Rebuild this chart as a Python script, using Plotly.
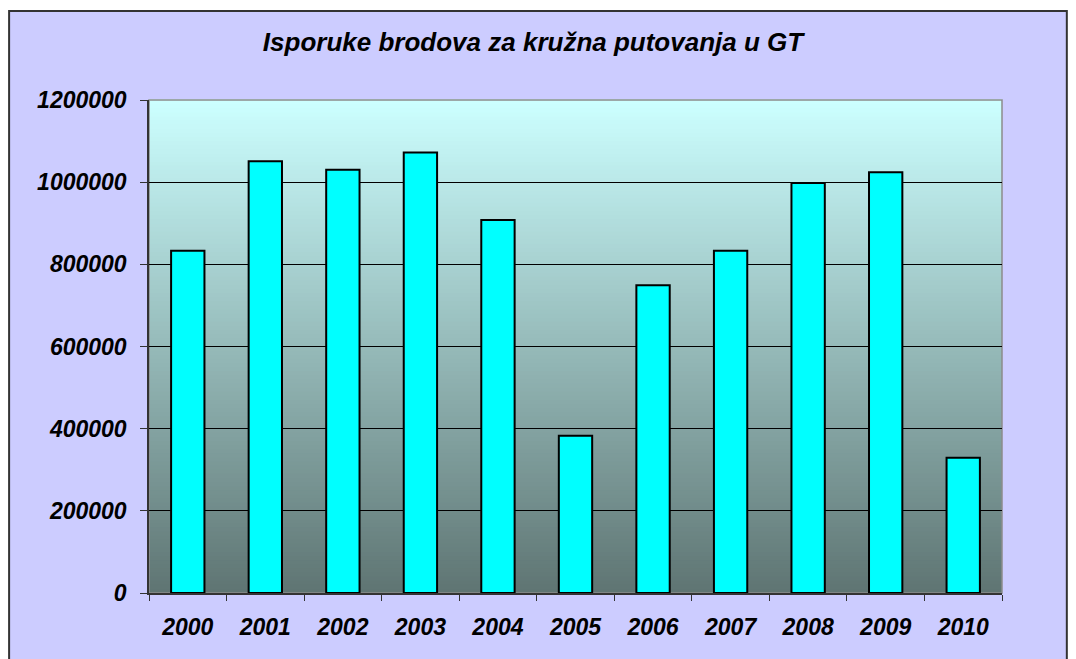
import plotly.graph_objects as go

# Isporuke brodova za kružna putovanja (GT)
years = ['2000', '2001', '2002', '2003', '2004', '2005', '2006', '2007', '2008', '2009', '2010']
gt_values = [833000, 1051000, 1030000, 1072000, 908000, 383000, 749000, 833000, 998000, 1024000, 329000]
y_ticks = [0, 200000, 400000, 600000, 800000, 1000000, 1200000]

FONT = 'Arial, Liberation Sans, sans-serif'

fig = go.Figure()

fig.add_trace(go.Bar(
    x=years,
    y=gt_values,
    marker=dict(color='#00FFFF', line=dict(color='black', width=2)),
    hoverinfo='x+y',
    showlegend=False
))

shapes = []

# okvir cijelog grafikona (lavanda pozadina)
shapes.append(dict(type='rect', xref='paper', yref='paper',
                   x0=-0.164, x1=1.076, y0=-0.17, y1=1.1805,
                   fillcolor='#CCCCFF', line=dict(color='#333333', width=2),
                   layer='below'))

# gradijent u području crtanja (odozgo svijetlo cijan, dolje tamno sivo-zelena)
top = (204, 255, 255)
bottom = (95, 117, 115)
n = 120
for i in range(n):
    t = i / (n - 1)
    c = tuple(round(bottom[k] + (top[k] - bottom[k]) * t) for k in range(3))
    shapes.append(dict(type='rect', xref='x domain', yref='y domain',
                       x0=0, x1=1, y0=i / n, y1=(i + 1) / n + 0.002,
                       fillcolor='rgb(%d,%d,%d)' % c, line=dict(width=0),
                       layer='below'))

# rub područja crtanja
shapes.append(dict(type='rect', xref='x domain', yref='y domain',
                   x0=0, x1=1, y0=0, y1=1,
                   line=dict(color='#8C8C8C', width=1.5), layer='below'))

fig.update_layout(
    width=1068, height=651,
    margin=dict(l=141, r=74, t=92, b=66),
    paper_bgcolor='white',
    plot_bgcolor='rgba(0,0,0,0)',
    bargap=0.57,
    shapes=shapes,
    title=dict(text='<b><i>Isporuke brodova za kružna putovanja u GT</i></b>',
               x=0.4916, xref='container', xanchor='center',
               y=1 - 34 / 651, yref='container', yanchor='middle',
               font=dict(family=FONT, size=26, color='black')),
    font=dict(family=FONT, color='black'),
    xaxis=dict(
        type='category',
        tickson='boundaries',
        ticks='outside', ticklen=6, tickcolor='#333333', tickwidth=1,
        showline=True, linecolor='#333333', linewidth=1.5,
        showgrid=False,
        tickfont=dict(family=FONT, size=23, color='black', weight='bold', style='italic'),
        ticklabelstandoff=13
    ),
    yaxis=dict(
        range=[0, 1200000],
        tickvals=y_ticks,
        ticktext=[str(v) for v in y_ticks],
        ticks='outside', ticklen=7, tickcolor='#333333', tickwidth=1,
        showline=True, linecolor='#333333', linewidth=1.5,
        showgrid=True, gridcolor='black', gridwidth=1,
        zeroline=False,
        tickfont=dict(family=FONT, size=23, color='black', weight='bold', style='italic'),
        ticklabelstandoff=9
    )
)

fig.write_html("out.html")
